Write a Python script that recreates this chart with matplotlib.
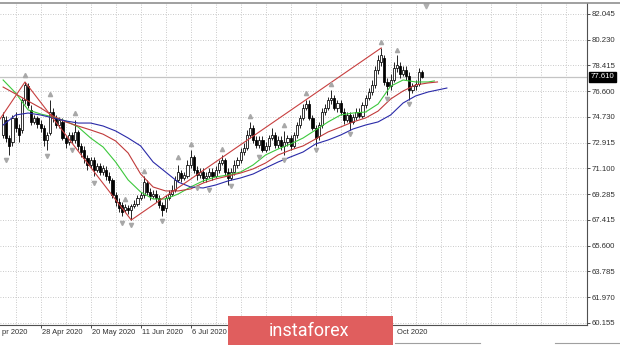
import numpy as np
import matplotlib
matplotlib.use("Agg")
import matplotlib.pyplot as plt
from matplotlib.patches import Rectangle
from matplotlib.lines import Line2D
import matplotlib.transforms as mtrans

# daily candles, bar 0 = 9 Apr 2020 (approx), last bar ~ mid Oct 2020
opens = [73.47, 74.54, 73.26, 72.98, 74.68, 73.97, 73.83, 75.95, 76.93, 75.25,
         74.40, 74.68, 74.25, 73.97, 73.12, 73.62, 75.10, 74.68, 74.18, 74.40,
         73.26, 72.98, 73.47, 73.12, 73.69, 72.70, 72.41, 71.84, 71.35, 71.70,
         70.99, 71.28, 70.85, 70.99, 70.57, 70.29, 69.22, 68.73, 68.51, 68.16,
         68.30, 68.16, 68.44, 68.59, 69.01, 69.22, 70.07, 69.44, 69.15, 69.29,
         69.01, 68.51, 68.30, 69.01, 69.29, 69.58, 70.29, 70.78, 70.43, 70.57,
         71.35, 71.92, 70.99, 70.64, 70.85, 70.43, 70.57, 70.85, 70.57, 70.99,
         71.49, 71.70, 70.85, 70.43, 70.85, 71.35, 71.70, 72.27, 72.55, 73.47,
         73.97, 73.12, 72.77, 73.12, 72.41, 72.70, 73.26, 73.47, 72.77, 73.12,
         72.70, 72.98, 73.26, 72.70, 73.47, 74.18, 74.68, 75.39, 75.67, 74.68,
         73.97, 73.40, 74.18, 75.10, 75.39, 75.95, 76.10, 75.39, 75.74, 75.10,
         74.54, 74.89, 74.40, 74.75, 75.10, 74.82, 75.60, 76.10, 76.52, 77.02,
         78.08, 78.65, 78.93, 77.23, 76.93, 77.37, 78.22, 78.36, 77.80, 78.08,
         77.65, 76.66, 76.93, 77.09, 77.94]
closes = [74.75, 73.26, 72.70, 74.68, 73.97, 73.47, 75.95, 77.02, 75.60, 74.40,
          74.68, 74.25, 73.97, 73.12, 73.47, 75.10, 74.68, 74.18, 74.54, 73.26,
          72.91, 73.47, 73.12, 73.69, 72.70, 72.27, 71.84, 71.35, 71.70, 70.99,
          71.28, 70.85, 71.14, 70.57, 70.29, 69.22, 68.73, 68.30, 68.02, 68.37,
          68.16, 68.44, 68.59, 69.01, 69.22, 70.14, 69.44, 69.15, 69.29, 69.01,
          68.51, 68.16, 69.01, 69.29, 69.58, 70.29, 70.85, 70.43, 70.64, 71.35,
          71.92, 70.99, 70.64, 70.85, 70.43, 70.57, 70.85, 70.57, 70.99, 71.49,
          71.70, 70.85, 70.43, 70.85, 71.35, 71.70, 72.27, 72.55, 73.47, 73.97,
          73.12, 72.77, 73.12, 72.41, 72.70, 73.26, 73.47, 72.77, 73.12, 72.70,
          72.98, 73.26, 72.70, 73.47, 74.18, 74.68, 75.39, 75.67, 74.68, 73.97,
          73.26, 74.18, 75.10, 75.39, 75.95, 76.10, 75.39, 75.74, 75.10, 74.54,
          74.89, 74.40, 74.75, 75.10, 74.82, 75.60, 76.10, 76.52, 77.02, 78.08,
          78.79, 79.14, 77.23, 76.93, 77.37, 78.22, 78.43, 77.80, 78.08, 77.65,
          76.66, 76.93, 77.09, 77.94, 77.61]
highs = [75.10, 74.82, 73.47, 74.89, 75.10, 74.25, 76.10, 77.23, 77.16, 75.60,
         74.89, 74.82, 74.54, 74.18, 73.69, 75.95, 75.39, 74.89, 74.75, 74.68,
         73.47, 73.69, 73.69, 74.54, 73.83, 72.91, 72.70, 72.06, 71.92, 71.92,
         71.49, 71.49, 71.35, 71.28, 70.85, 70.43, 69.44, 69.01, 68.73, 68.59,
         68.51, 68.59, 68.87, 69.22, 69.44, 70.57, 70.29, 69.72, 69.58, 69.58,
         69.22, 68.73, 69.22, 69.58, 69.93, 70.57, 71.35, 70.99, 70.85, 71.70,
         72.41, 72.06, 71.28, 71.14, 71.14, 70.85, 71.14, 71.14, 71.28, 71.70,
         72.06, 71.84, 71.14, 71.14, 71.70, 71.92, 72.55, 72.91, 73.83, 74.40,
         74.18, 73.40, 73.40, 73.40, 72.98, 73.47, 73.97, 73.69, 73.40, 73.40,
         73.76, 73.47, 73.47, 73.69, 74.40, 74.89, 75.67, 75.95, 75.95, 74.89,
         74.18, 74.40, 75.39, 75.67, 76.17, 76.66, 76.31, 75.95, 75.95, 75.39,
         75.10, 75.10, 74.96, 75.39, 75.39, 75.81, 76.31, 76.80, 77.37, 78.36,
         79.14, 79.64, 79.14, 77.51, 77.80, 78.65, 79.14, 78.65, 78.36, 78.36,
         77.94, 77.16, 77.37, 78.22, 78.08]
lows = [73.26, 72.98, 72.06, 72.70, 73.69, 72.98, 73.62, 75.67, 75.39, 74.18,
        74.25, 73.97, 73.69, 72.70, 72.41, 73.47, 74.40, 73.97, 73.97, 73.12,
        72.55, 72.77, 72.91, 72.91, 72.41, 71.92, 71.49, 70.99, 71.14, 70.57,
        70.85, 70.64, 70.64, 70.29, 70.07, 69.01, 68.44, 68.02, 67.73, 68.02,
        67.88, 67.45, 68.30, 68.44, 68.87, 69.01, 69.22, 68.87, 69.01, 68.73,
        68.30, 67.73, 68.02, 68.87, 69.15, 69.44, 70.14, 70.14, 70.29, 70.43,
        71.14, 70.78, 70.29, 70.43, 70.14, 70.14, 70.43, 70.29, 70.43, 70.78,
        71.35, 70.64, 69.93, 70.29, 70.64, 71.14, 71.49, 72.06, 72.41, 73.26,
        72.91, 72.55, 72.55, 72.27, 72.27, 72.41, 73.12, 72.55, 72.55, 72.41,
        72.06, 72.70, 72.41, 72.55, 73.26, 73.97, 74.54, 75.25, 74.54, 73.83,
        72.70, 73.12, 73.97, 74.89, 75.25, 75.67, 75.25, 75.10, 74.89, 74.25,
        74.40, 73.83, 74.25, 74.54, 74.68, 74.68, 75.39, 75.95, 76.31, 76.80,
        77.80, 78.36, 77.02, 76.31, 76.66, 77.23, 77.94, 77.51, 77.65, 77.37,
        75.95, 76.45, 76.66, 76.93, 77.51]

# moving averages (shifted lines run past the last bar)
ma_idx = [0, 4, 8, 12, 16, 20, 24, 28, 32, 36, 40, 44, 48, 52, 56, 60, 64, 68,
          72, 76, 80, 84, 88, 92, 96, 100, 104, 108, 112, 116, 120, 124, 128,
          132, 136]
ma_fast = [77.37, 76.45, 75.25, 74.96, 74.75, 74.47, 74.04, 73.26, 72.62, 71.56,
           70.29, 69.44, 68.94, 68.94, 69.29, 69.79, 70.22, 70.50, 70.64, 70.85,
           71.35, 72.06, 72.48, 72.84, 73.26, 73.83, 74.40, 74.89, 75.03, 75.10,
           75.67, 76.93, 77.37, 77.23, 77.23]
ma_mid = [76.87, 76.38, 75.88, 75.39, 74.82, 74.40, 74.11, 73.83, 73.53, 73.05,
          72.20, 70.71, 69.79, 69.51, 69.51, 69.65, 70.07, 70.36, 70.57, 70.78,
          71.07, 71.49, 72.06, 72.41, 72.70, 73.19, 73.69, 74.04, 74.40, 74.68,
          75.17, 76.02, 76.59, 77.02, 77.16]
ma_slow = [74.18, 74.89, 75.03, 74.89, 74.68, 74.47, 74.32, 74.32, 74.11, 73.76,
           73.26, 72.70, 71.56, 70.85, 70.14, 69.79, 69.72, 69.93, 70.22, 70.43,
           70.71, 71.14, 71.56, 71.92, 72.27, 72.84, 73.12, 73.47, 73.90, 74.18,
           74.40, 74.89, 75.74, 76.24, 76.52]
ma_fast_end = [(138, 77.30)]
ma_mid_end = [(139, 77.23)]
ma_slow_end = [(139, 76.66), (142, 76.80)]

zz_idx = [-4, 7, 41, 121]
zz_val = [73.62, 77.23, 67.45, 79.64]

frac_up_idx = [7, 15, 23, 39, 45, 56, 60, 70, 79, 90, 97, 105, 121, 126]
frac_up_val = [77.72, 76.38, 75.03, 68.94, 70.92, 71.92, 72.84, 72.48, 74.82,
               74.18, 76.45, 77.09, 80.06, 79.50]
frac_dn_idx = [1, 14, 22, 29, 38, 41, 51, 62, 66, 73, 82, 90, 100, 111, 123, 130]
frac_dn_val = [71.70, 71.99, 72.41, 70.07, 67.24, 67.10, 67.38, 69.72, 69.58,
               69.86, 71.92, 71.70, 72.41, 73.53, 76.02, 75.67]

price_labels = ["60.155", "61.970", "63.785", "65.600", "67.415", "69.285", "71.100",
                "72.915", "74.730", "76.600", "78.415", "80.230", "82.045"]
date_idx = [-4, 12, 28, 44, 60, 76, 92, 108, 124]
# only the parts left visible in the chart (window edge and watermark cover the rest)
date_labels = ["pr 2020", "28 Apr 2020", "20 May 2020", "11 Jun 2020", "6 Jul 2020",
               "", "", "", "Oct 2020"]
label_shift = [3.5, 0.5, 0.5, 0.5, 0.5, 0, 0, 0, 2.1]
last_price = 77.61


def draw_candles(ax):
    n = len(opens)
    idx = np.arange(n)
    ax.vlines(idx, lows, highs, color="black", linewidth=0.6, zorder=3)
    for i in range(n):
        o, c = opens[i], closes[i]
        fc = "white" if c >= o else "black"
        h = max(abs(c - o), 0.02)
        ax.add_patch(Rectangle((i - 0.34, min(o, c)), 0.68, h, facecolor=fc,
                               edgecolor="black", linewidth=0.55, zorder=4))


def main():
    fig = plt.figure(figsize=(6.2, 3.45), dpi=100)
    ax = fig.add_axes([0.0, 20 / 345, 587 / 620, 322 / 345])
    lab_font = "Liberation Sans"

    yt = np.linspace(60.155, 82.045, 13)
    gridc = "#b8b8b8"
    for y in yt:
        ax.axhline(y, color=gridc, linestyle=(0, (1, 2)), linewidth=0.6, zorder=1)
    for x in np.arange(4, 187, 8):
        ax.axvline(x, color=gridc, linestyle=(0, (1, 2)), linewidth=0.6, zorder=1)

    # bid line
    ax.axhline(last_price, color="#c4c4c4", linewidth=0.9, zorder=2)

    draw_candles(ax)

    fx, fy = zip(*ma_fast_end)
    ax.plot(ma_idx + list(fx), ma_fast + list(fy), color="#3cc83c", linewidth=0.8, zorder=5)
    mx, my = zip(*ma_mid_end)
    ax.plot(ma_idx + list(mx), ma_mid + list(my), color="#c03a3a", linewidth=0.8, zorder=5)
    sx, sy = zip(*ma_slow_end)
    ax.plot(ma_idx + list(sx), ma_slow + list(sy), color="#2a2aa8", linewidth=0.8, zorder=5)
    ax.plot(zz_idx, zz_val, color="#c84040", linewidth=0.8, zorder=5)

    ax.plot(frac_up_idx, frac_up_val, linestyle="none", marker="^", markersize=3.0,
            color="#a8a8a8", zorder=6)
    ax.plot(frac_dn_idx, frac_dn_val, linestyle="none", marker="v", markersize=3.0,
            color="#a8a8a8", zorder=6)

    # axes look
    for s in ["left", "top"]:
        ax.spines[s].set_visible(False)
    for s in ["right", "bottom"]:
        ax.spines[s].set_color("#505050")
        ax.spines[s].set_linewidth(0.8)
    ax.yaxis.tick_right()
    ax.set_yticks(yt)
    ax.set_yticklabels(price_labels, fontfamily=lab_font)
    ax.tick_params(axis="y", length=2, width=0.6, pad=1.5, labelsize=5.6,
                   colors="#303030")
    ax.set_xticks(date_idx)
    ax.set_xticklabels([])
    ax.tick_params(axis="x", length=2.5, width=0.6, colors="#303030", direction="out")

    # limits last, set_xticks would widen them otherwise
    ax.set_xlim(-1.0, 186.85)
    ax.set_ylim(60.013, 82.824)

    tr = ax.get_xaxis_transform()
    for i, lab, dx in zip(date_idx, date_labels, label_shift):
        if not lab:
            continue
        ax.text(i + dx, -0.012, lab, transform=tr, ha="left", va="top",
                fontsize=5.4, color="#303030", family=lab_font, clip_on=False)

    # last price tag
    trp = mtrans.blended_transform_factory(ax.transAxes, ax.transData)
    ax.text(1.006, last_price, "77.610", transform=trp, ha="left", va="center",
            fontsize=5.6, color="white", family=lab_font, clip_on=False,
            bbox=dict(boxstyle="square,pad=0.2", facecolor="black", edgecolor="black"))

    # chart shift marker at the top
    ax.plot([135.3], [82.62], marker="v", markersize=3.5, color="#b0b0b0",
            clip_on=False, zorder=6)

    # window frame lines
    fig.add_artist(Line2D([0, 1], [1 - 3 / 345, 1 - 3 / 345], color="#909090",
                          linewidth=1.2, transform=fig.transFigure))
    for x0, x1 in [(395, 480), (555, 620)]:
        fig.add_artist(Line2D([x0 / 620, x1 / 620], [2 / 345, 2 / 345], color="#a0a0a0",
                              linewidth=0.8, transform=fig.transFigure))

    # watermark banner
    fig.add_artist(Rectangle((228 / 620, 0), 165 / 620, 29 / 345, facecolor="#e05e5e",
                             edgecolor="none", transform=fig.transFigure, zorder=10))
    fig.text(309 / 620, 14 / 345, "instaforex", ha="center", va="center",
             fontsize=13, color="white", family="Roboto", zorder=11)

    fig.savefig("out.png", dpi=100, facecolor="white")


if __name__ == "__main__":
    main()
